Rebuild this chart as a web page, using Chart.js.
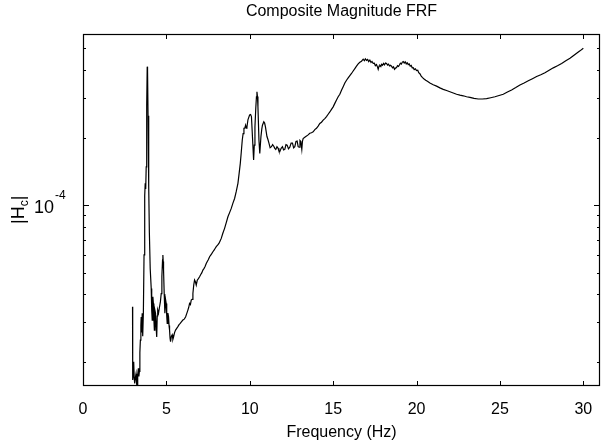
<!DOCTYPE html>
<html>
<head>
<meta charset="utf-8">
<script src="https://cdn.jsdelivr.net/npm/chart.js@4/dist/chart.umd.min.js"></script>
<style>
  html, body { margin: 0; padding: 0; background: #fff; }
  #wrap { width: 605px; height: 447px; }
</style>
</head>
<body>
<div id="wrap"><canvas id="frf"></canvas></div>
<script>
// Frequency (Hz) and |Hc| magnitude (in units of 1e-5)
const freq = [
  2.97, 2.98, 3.01, 3.04, 3.07, 3.10, 3.14, 3.18, 3.21, 3.24, 3.28, 3.32, 3.35, 3.38, 3.41, 3.44,
  3.47, 3.49, 3.52, 3.55, 3.58, 3.62, 3.66, 3.70, 3.73, 3.76, 3.79, 3.82, 3.85, 3.87, 3.90, 3.94,
  3.98, 4.03, 4.09, 4.12, 4.15, 4.19, 4.22, 4.25, 4.28, 4.31, 4.35, 4.38, 4.42, 4.45, 4.48, 4.53,
  4.59, 4.64, 4.69, 4.73, 4.77, 4.79, 4.81, 4.83, 4.87, 4.91, 4.95, 4.99, 5.02, 5.05, 5.09, 5.13,
  5.16, 5.19, 5.22, 5.25, 5.30, 5.35, 5.39, 5.43, 5.49, 5.55, 5.62, 5.69, 5.76, 5.83, 5.91, 5.99,
  6.07, 6.15, 6.22, 6.29, 6.34, 6.39, 6.44, 6.49, 6.54, 6.59, 6.64, 6.69, 6.74, 6.79, 6.85, 6.92,
  6.99, 7.06, 7.12, 7.19, 7.26, 7.32, 7.39, 7.46, 7.52, 7.59, 7.66, 7.72, 7.79, 7.86, 7.92, 7.99,
  8.07, 8.15, 8.22, 8.29, 8.39, 8.49, 8.59, 8.69, 8.79, 8.89, 8.99, 9.09, 9.19, 9.29, 9.36, 9.43,
  9.49, 9.55, 9.60, 9.65, 9.70, 9.75, 9.79, 9.83, 9.89, 9.94, 9.99, 10.05, 10.10, 10.16, 10.23, 10.27,
  10.31, 10.36, 10.40, 10.43, 10.46, 10.49, 10.55, 10.60, 10.67, 10.72, 10.76, 10.84, 10.89, 10.94, 11.03, 11.09,
  11.15, 11.22, 11.30, 11.37, 11.44, 11.50, 11.56, 11.63, 11.70, 11.75, 11.80, 11.88, 11.96, 12.03, 12.10, 12.17,
  12.24, 12.32, 12.40, 12.48, 12.56, 12.63, 12.70, 12.77, 12.84, 12.90, 12.96, 13.01, 13.06, 13.12, 13.16, 13.20,
  13.28, 13.36, 13.48, 13.60, 13.70, 13.80, 13.90, 14.00, 14.10, 14.20, 14.30, 14.40, 14.50, 14.60, 14.70, 14.80,
  14.90, 15.00, 15.10, 15.20, 15.30, 15.40, 15.50, 15.60, 15.70, 15.81, 15.90, 16.00, 16.10, 16.20, 16.30, 16.40,
  16.50, 16.60, 16.70, 16.80, 16.87, 16.93, 17.00, 17.07, 17.13, 17.20, 17.27, 17.33, 17.40, 17.47, 17.53, 17.60,
  17.66, 17.70, 17.75, 17.80, 17.86, 17.90, 17.96, 18.02, 18.08, 18.14, 18.20, 18.26, 18.32, 18.38, 18.44, 18.50,
  18.56, 18.62, 18.68, 18.74, 18.80, 18.86, 18.92, 18.97, 19.03, 19.09, 19.15, 19.20, 19.26, 19.32, 19.38, 19.44,
  19.50, 19.56, 19.62, 19.68, 19.74, 19.80, 19.86, 19.93, 20.00, 20.07, 20.13, 20.20, 20.28, 20.36, 20.45, 20.55,
  20.65, 20.80, 21.00, 21.20, 21.40, 21.60, 21.80, 22.00, 22.20, 22.40, 22.60, 22.80, 23.00, 23.20, 23.45, 23.70,
  23.95, 24.20, 24.45, 24.70, 24.95, 25.20, 25.45, 25.70, 25.95, 26.20, 26.45, 26.70, 26.95, 27.20, 27.45, 27.70,
  27.95, 28.20, 28.45, 28.70, 28.95, 29.20, 29.40, 29.60, 29.80, 30.00
];
const mag = [
  3.52, 1.66, 1.75, 2.00, 1.70, 1.60, 1.70, 1.77, 1.62, 1.52, 1.75, 1.87, 1.72, 1.81, 2.20, 2.50,
  2.90, 3.17, 2.70, 3.29, 2.60, 3.30, 6.00, 11.0, 12.5, 11.8, 14.8, 28.0, 41.4, 40.0, 25.0, 12.1,
  7.50, 5.20, 4.25, 3.40, 3.07, 3.90, 3.64, 3.10, 2.77, 3.40, 3.29, 2.90, 2.58, 3.20, 3.40, 3.30,
  3.52, 3.70, 4.03, 4.80, 5.70, 5.98, 5.60, 5.13, 4.00, 3.29, 3.80, 3.64, 3.20, 2.97, 3.30, 3.17,
  2.90, 2.77, 2.55, 2.46, 2.60, 2.64, 2.52, 2.58, 2.70, 2.77, 2.82, 2.87, 2.93, 2.97, 3.02, 3.07,
  3.10, 3.17, 3.28, 3.40, 3.50, 3.64, 3.60, 3.77, 3.80, 4.03, 4.40, 4.63, 4.55, 4.40, 4.62, 4.70,
  4.79, 4.90, 4.98, 5.13, 5.22, 5.32, 5.49, 5.62, 5.72, 5.88, 5.98, 6.07, 6.19, 6.30, 6.40, 6.52,
  6.62, 6.74, 6.92, 7.10, 7.50, 7.87, 8.35, 8.87, 9.25, 9.66, 10.2, 10.7, 11.5, 12.5, 13.8, 15.3,
  17.2, 19.5, 20.8, 22.0, 22.0, 22.7, 22.0, 22.3, 24.0, 24.6, 25.2, 25.3, 24.8, 20.2, 15.9, 18.5,
  22.3, 27.0, 30.4, 32.0, 30.5, 27.4, 19.5, 17.0, 20.2, 21.8, 22.7, 23.5, 23.2, 22.3, 20.2, 19.6,
  18.9, 18.0, 18.2, 18.6, 18.3, 17.9, 17.7, 18.2, 17.9, 17.4, 17.3, 17.9, 18.2, 17.6, 17.7, 18.6,
  18.5, 17.8, 18.1, 18.9, 18.9, 18.0, 18.2, 19.2, 19.3, 18.2, 18.1, 19.4, 19.2, 17.7, 19.3, 19.8,
  20.0, 20.2, 20.5, 20.9, 21.0, 21.2, 21.7, 22.0, 22.5, 23.1, 23.4, 23.9, 24.3, 24.8, 25.4, 26.0,
  26.7, 27.4, 28.4, 29.4, 30.4, 31.2, 32.5, 33.7, 35.0, 36.1, 36.9, 37.8, 38.6, 39.6, 40.6, 41.6,
  42.6, 43.3, 43.8, 44.7, 44.0, 44.9, 44.2, 44.6, 43.6, 44.3, 43.2, 43.7, 42.8, 42.9, 41.8, 42.3,
  41.2, 40.3, 41.6, 42.0, 41.5, 42.4, 42.0, 42.8, 42.2, 43.0, 42.8, 42.1, 42.5, 41.7, 42.0, 41.6,
  40.9, 41.3, 40.3, 40.8, 41.0, 41.8, 41.5, 42.1, 42.9, 42.5, 43.4, 43.6, 43.0, 43.5, 42.6, 43.1,
  42.3, 42.6, 41.6, 41.9, 40.9, 41.0, 40.2, 40.5, 39.8, 39.9, 38.9, 38.5, 37.6, 37.0, 36.5, 36.0,
  35.6, 35.0, 34.4, 33.9, 33.3, 32.8, 32.4, 32.0, 31.6, 31.2, 30.9, 30.7, 30.4, 30.2, 29.9, 29.7,
  29.7, 29.8, 30.1, 30.4, 30.8, 31.2, 31.9, 32.6, 33.4, 34.3, 35.0, 35.8, 36.6, 37.4, 38.1, 38.9,
  39.9, 40.9, 41.8, 42.8, 44.0, 45.1, 46.3, 47.5, 48.7, 50.0
];

// axis ranges and tick positions
const xMin = 0, xMax = 31;
const yMin = 1.56e-5, yMax = 5.79e-4;
const yMajorTicks = [1e-4];
const yMinorTicks = [2e-5, 3e-5, 4e-5, 5e-5, 6e-5, 7e-5, 8e-5, 9e-5, 2e-4, 3e-4, 4e-4, 5e-4];

const FONT = '"Liberation Sans", Arial, Helvetica, sans-serif';
Chart.defaults.font.family = FONT;
Chart.defaults.font.size = 16;
Chart.defaults.color = '#000';

// box, inward ticks, the 10^-4 label and the |Hc| title
const frameTicks = {
  id: 'frameTicks',
  afterDraw(chart) {
    const { ctx, chartArea: a, scales: { x, y } } = chart;
    ctx.save();
    ctx.strokeStyle = '#000';
    ctx.lineWidth = 1.2;
    ctx.strokeRect(a.left + 0.5, a.top + 0.5, a.right - a.left - 1, a.bottom - a.top - 1);

    ctx.lineWidth = 1;
    ctx.beginPath();
    x.ticks.forEach(t => {
      const px = Math.round(x.getPixelForValue(t.value)) + 0.5;
      ctx.moveTo(px, a.bottom); ctx.lineTo(px, a.bottom - 5);
      ctx.moveTo(px, a.top); ctx.lineTo(px, a.top + 5);
    });
    const yTick = (v, len) => {
      const py = Math.round(y.getPixelForValue(v)) + 0.5;
      ctx.moveTo(a.left, py); ctx.lineTo(a.left + len, py);
      ctx.moveTo(a.right, py); ctx.lineTo(a.right - len, py);
    };
    yMinorTicks.forEach(v => yTick(v, 3));
    yMajorTicks.forEach(v => yTick(v, 6));
    ctx.stroke();

    // tick label 10^-4
    ctx.fillStyle = '#000';
    yMajorTicks.forEach(v => {
      const py = y.getPixelForValue(v);
      const exp = Math.round(Math.log10(v));
      ctx.font = '18px ' + FONT;
      ctx.textAlign = 'right';
      ctx.textBaseline = 'alphabetic';
      ctx.fillText('10', 54, py + 8);
      ctx.font = '12px ' + FONT;
      ctx.textAlign = 'left';
      ctx.fillText(String(exp), 55, py - 6);
    });

    // y axis title |H_c|
    ctx.translate(24, (a.top + a.bottom) / 2 + 14);
    ctx.rotate(-Math.PI / 2);
    ctx.textAlign = 'left';
    ctx.font = '18px ' + FONT;
    let cx = 0;
    ctx.fillText('|H', cx, 0);
    cx += ctx.measureText('|H').width;
    ctx.font = '12px ' + FONT;
    ctx.fillText('c', cx, 4);
    cx += ctx.measureText('c').width;
    ctx.font = '18px ' + FONT;
    ctx.fillText('|', cx, 0);
    ctx.restore();
  }
};

new Chart(document.getElementById('frf'), {
  type: 'line',
  data: {
    datasets: [{
      data: freq.map((f, i) => ({ x: f, y: mag[i] * 1e-5 })),
      borderColor: '#000',
      borderWidth: 1.2,
      pointRadius: 0,
      tension: 0,
      fill: false
    }]
  },
  options: {
    responsive: true,
    maintainAspectRatio: false,
    animation: false,
    layout: { padding: { top: 0, right: 5, bottom: 0, left: 0 } },
    plugins: {
      legend: { display: false },
      tooltip: { enabled: false },
      title: {
        display: true,
        text: 'Composite Magnitude FRF',
        fullSize: false,
        color: '#000',
        font: { size: 16, weight: 'normal', lineHeight: 1.25 },
        padding: { top: 2, bottom: 12 }
      }
    },
    scales: {
      x: {
        type: 'linear',
        min: xMin,
        max: xMax,
        grid: { display: false },
        border: { display: false },
        ticks: { stepSize: 5, includeBounds: false, padding: 6, maxRotation: 0, color: '#000' },
        title: { display: true, text: 'Frequency (Hz)', color: '#000', padding: { top: 0, bottom: 5 } },
        afterFit(s) { s.height = 61; }
      },
      y: {
        type: 'logarithmic',
        min: yMin,
        max: yMax,
        grid: { display: false },
        border: { display: false },
        ticks: { display: false },
        afterFit(s) { s.width = 83; }
      }
    }
  },
  plugins: [frameTicks]
});
</script>
</body>
</html>
